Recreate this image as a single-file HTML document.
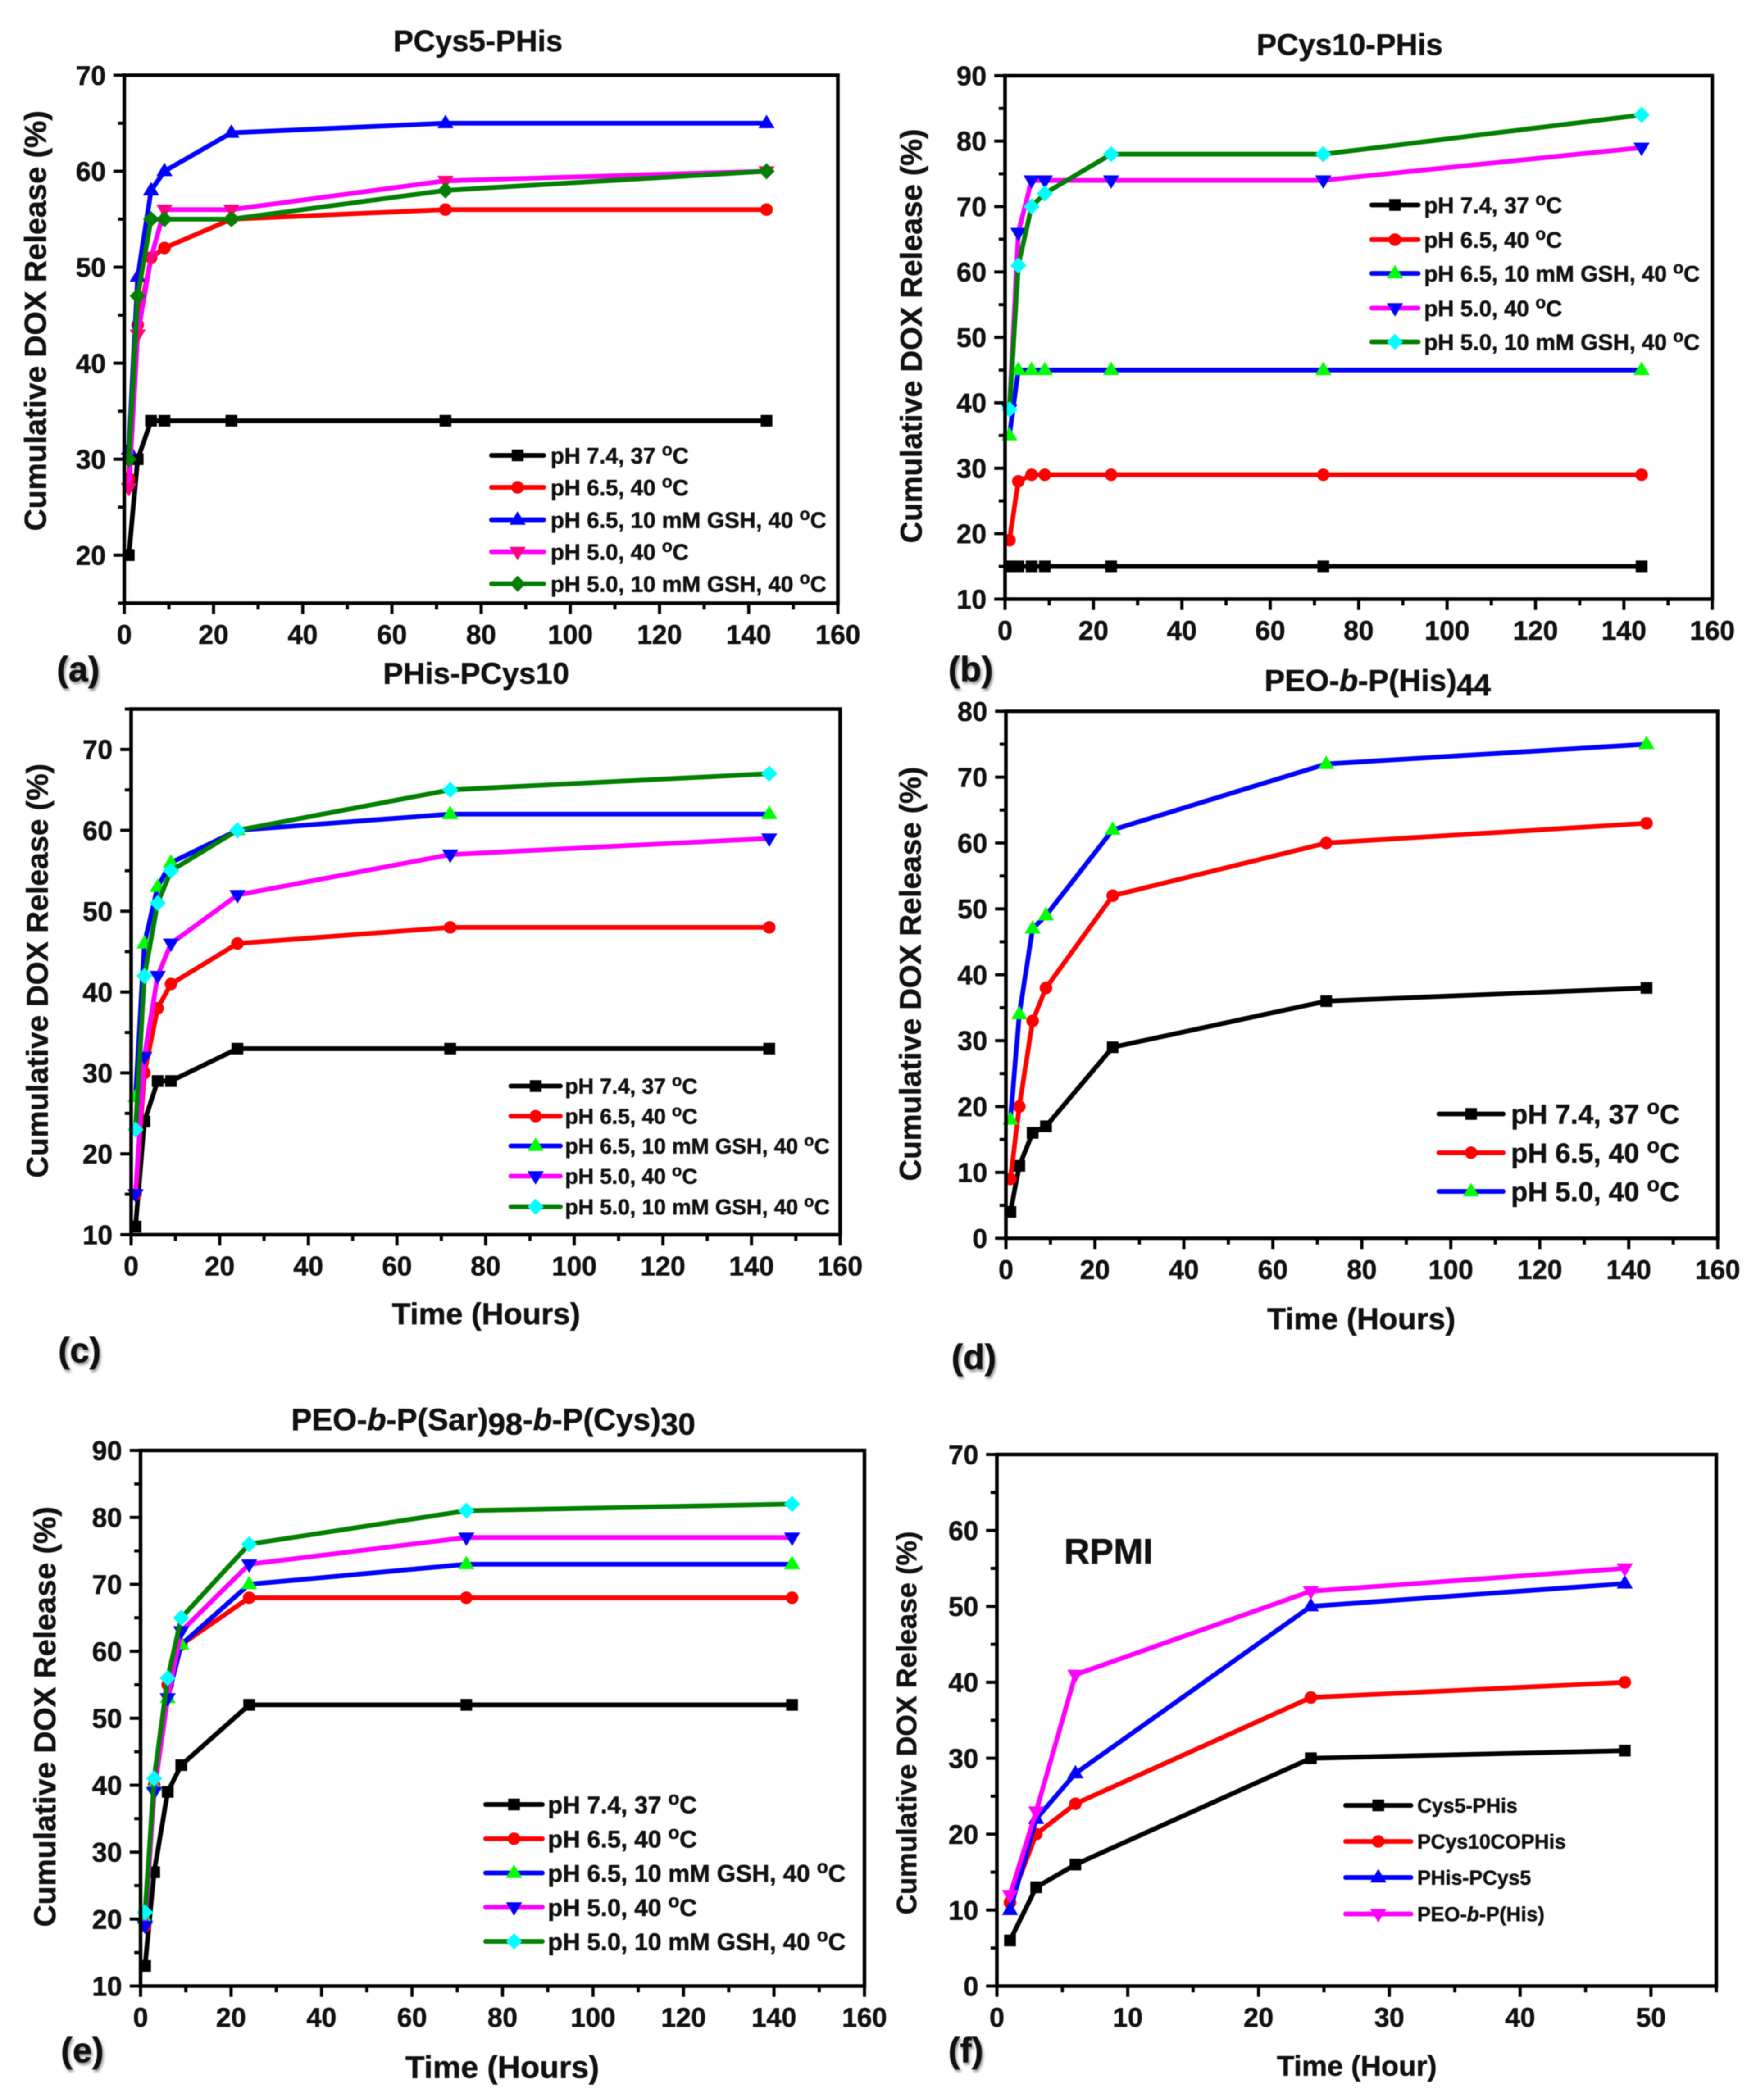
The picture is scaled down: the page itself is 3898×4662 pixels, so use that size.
<!DOCTYPE html>
<html lang="en">
<head>
<meta charset="utf-8">
<title>Cumulative DOX release charts</title>
<style>
html,body{margin:0;padding:0;background:#fff;width:3898px;height:4662px;overflow:hidden}
svg{display:block;filter:blur(1px)}
text{font-family:"Liberation Sans",sans-serif;font-weight:bold;fill:#111;stroke:#111;stroke-width:.8px}
.panel-tag{font-size:78px;text-shadow:3px 5px 6px rgba(0,0,0,.4)}
.title{font-size:67px;text-anchor:middle}
.xt{font-size:68px;text-anchor:middle}
.yt{text-anchor:middle}
</style>
</head>
<body>
<svg id="figure" xmlns="http://www.w3.org/2000/svg" width="3898" height="4662" viewBox="0 0 3898 4662">
<rect width="3898" height="4662" fill="#fff"/>
<g id="panel-a">
  <text class="title" x="1061" y="114">PCys5-PHis</text>
  <text class="yt" font-size="68" transform="translate(102,712) rotate(-90)">Cumulative DOX Release (%)</text>
  <text class="panel-tag" x="126" y="1512">(a)</text>
</g>
<g id="panel-b">
  <text class="title" x="2996" y="122">PCys10-PHis</text>
  <text class="yt" font-size="67" transform="translate(2046,746) rotate(-90)">Cumulative DOX Release (%)</text>
  <text class="panel-tag" x="2105" y="1512">(b)</text>
</g>
<g id="panel-c">
  <text class="title" x="1057" y="1518">PHis-PCys10</text>
  <text class="yt" font-size="67" transform="translate(106,2155) rotate(-90)">Cumulative DOX Release (%)</text>
  <text class="xt" x="1079" y="2940">Time (Hours)</text>
  <text class="panel-tag" x="129" y="3024">(c)</text>
</g>
<g id="panel-d">
  <text class="title" style="font-size:68px" x="3058" y="1534">PEO-<tspan font-style="italic">b</tspan>-P(His)<tspan dy="10">44</tspan></text>
  <text class="yt" font-size="67" transform="translate(2044,2162) rotate(-90)">Cumulative DOX Release (%)</text>
  <text class="xt" x="3022" y="2951">Time (Hours)</text>
  <text class="panel-tag" x="2112" y="3039">(d)</text>
</g>
<g id="panel-e">
  <text class="title" style="font-size:69px" x="1095" y="3175">PEO-<tspan font-style="italic">b</tspan>-P(Sar)<tspan dy="10">98</tspan><tspan dy="-10">-</tspan><tspan font-style="italic">b</tspan>-P(Cys)<tspan dy="10">30</tspan></text>
  <text class="yt" font-size="68" transform="translate(123,3811) rotate(-90)">Cumulative DOX Release (%)</text>
  <text class="xt" style="font-size:70px" x="1115" y="4613">Time (Hours)</text>
  <text class="panel-tag" x="135" y="4578">(e)</text>
</g>
<g id="panel-f">
  <text class="yt" font-size="62" transform="translate(2034,3825) rotate(-90)">Cumulative DOX Release (%)</text>
  <text class="xt" style="font-size:63.5px" x="3012" y="4608">Time (Hour)</text>
  <text x="2362" y="3471" font-size="79">RPMI</text>
  <text class="panel-tag" x="2105" y="4578">(f)</text>
</g>
</svg>
<script>
// ---- data ----
const hoursLong = [1, 3, 6, 9, 24, 72, 144];
const hoursShort = [1, 3, 6, 24, 48];

const xTicksLong = [0, 20, 40, 60, 80, 100, 120, 140, 160];
const xTicksShort = [0, 10, 20, 30, 40, 50];
const yTicksA = [20, 30, 40, 50, 60, 70];
const yTicksB = [10, 20, 30, 40, 50, 60, 70, 80, 90];
const yTicksC = [10, 20, 30, 40, 50, 60, 70];
const yTicksD = [0, 10, 20, 30, 40, 50, 60, 70, 80];
const yTicksE = [10, 20, 30, 40, 50, 60, 70, 80, 90];
const yTicksF = [0, 10, 20, 30, 40, 50, 60, 70];

const aPh74 = [20, 30, 34, 34, 34, 34, 34];
const aPh65 = [28, 44, 51, 52, 55, 56, 56];
const aPh65Gsh = [31, 49, 58, 60, 64, 65, 65];
const aPh50 = [27, 43, 51, 56, 56, 59, 60];
const aPh50Gsh = [30, 47, 55, 55, 55, 58, 60];

const bPh74 = [15, 15, 15, 15, 15, 15, 15];
const bPh65 = [19, 28, 29, 29, 29, 29, 29];
const bPh65Gsh = [35, 45, 45, 45, 45, 45, 45];
const bPh50 = [39, 66, 74, 74, 74, 74, 79];
const bPh50Gsh = [39, 61, 70, 72, 78, 78, 84];

const cPh74 = [11, 24, 29, 29, 33, 33, 33];
const cPh65 = [15, 30, 38, 41, 46, 48, 48];
const cPh65Gsh = [27, 46, 53, 56, 60, 62, 62];
const cPh50 = [15, 32, 42, 46, 52, 57, 59];
const cPh50Gsh = [23, 42, 51, 55, 60, 65, 67];

const dPh74 = [4, 11, 16, 17, 29, 36, 38];
const dPh65 = [9, 20, 33, 38, 52, 60, 63];
const dPh50 = [18, 34, 47, 49, 62, 72, 75];

const ePh74 = [13, 27, 39, 43, 52, 52, 52];
const ePh65 = [19, 40, 55, 61, 68, 68, 68];
const ePh65Gsh = [20, 40, 53, 61, 70, 73, 73];
const ePh50 = [19, 39, 53, 63, 73, 77, 77];
const ePh50Gsh = [21, 41, 56, 65, 76, 81, 82];

const fCys5PHis = [6, 13, 16, 30, 31];
const fPCys10 = [11, 20, 24, 38, 40];
const fPHisPCys5 = [10, 22, 28, 50, 53];
const fPeoPHis = [12, 23, 41, 52, 55];

const labelsFive = ['pH 7.4, 37 °C', 'pH 6.5, 40 °C', 'pH 6.5, 10 mM GSH, 40 °C', 'pH 5.0, 40 °C', 'pH 5.0, 10 mM GSH, 40 °C'];
const labelsThree = ['pH 7.4, 37 °C', 'pH 6.5, 40 °C', 'pH 5.0, 40 °C'];
const labelsRpmi = ['Cys5-PHis', 'PCys10COPHis', 'PHis-PCys5', 'PEO-b-P(His)'];

// ---- drawing ----
const NS = 'http://www.w3.org/2000/svg';

function make(parent, tag, name) {
  const el = document.createElementNS(NS, tag);
  
  
  parent.appendChild(el);
  return el;
}

function drawMarker(parent, shape, cx, cy, color, name) {
  let m;
  if (shape === 'square') {
    m = make(parent, 'rect', name);
    m.setAttribute('x', cx - 13);
    m.setAttribute('y', cy - 13);
    m.setAttribute('width', 26);
    m.setAttribute('height', 26);
  } else if (shape === 'circle') {
    m = make(parent, 'circle', name);
    m.setAttribute('cx', cx);
    m.setAttribute('cy', cy);
    m.setAttribute('r', 14);
  } else {
    m = make(parent, 'polygon', name);
    let pts;
    if (shape === 'up') pts = [[0, -19], [18, 11], [-18, 11]];
    else if (shape === 'down') pts = [[0, 19], [18, -11], [-18, -11]];
    else pts = [[0, -18], [18, 0], [0, 18], [-18, 0]];
    m.setAttribute('points', pts.map(p => (cx + p[0]) + ',' + (cy + p[1])).join(' '));
  }
  m.setAttribute('fill', color);
}

function writeLabel(textEl, label, size) {
  const parts = label.split(/(°|-b-)/);
  let afterSup = false;
  parts.forEach(part => {
    if (!part) return;
    const span = document.createElementNS(NS, 'tspan');
    if (part === '°') {
      span.textContent = 'o';
      span.setAttribute('font-size', size * 0.76);
      span.setAttribute('dy', -size * 0.36);
      afterSup = true;
    } else if (part === '-b-') {
      textEl.appendChild(document.createTextNode('-'));
      span.textContent = 'b';
      span.setAttribute('font-style', 'italic');
      textEl.appendChild(span);
      textEl.appendChild(document.createTextNode('-'));
      return;
    } else {
      span.textContent = part;
      if (afterSup) span.setAttribute('dy', size * 0.36);
      afterSup = false;
    }
    textEl.appendChild(span);
  });
}

function drawPanel(p) {
  const root = document.getElementById(p.id);
  const xPos = v => p.left + (v - 0) / (p.xMax - 0) * (p.right - p.left);
  const yPos = v => p.bottom - (v - p.yMin) / (p.yMax - p.yMin) * (p.bottom - p.top);

  const series = make(root, 'g', p.id + '-series');
  p.series.forEach((s, i) => {
    const g = make(series, 'g', p.id + '-series-' + (i + 1));
    const line = make(g, 'polyline', p.id + '-series-' + (i + 1) + '-line');
    line.setAttribute('fill', 'none');
    line.setAttribute('stroke', s.line);
    line.setAttribute('stroke-width', 10.5);
    line.setAttribute('stroke-linejoin', 'miter');
    line.setAttribute('points', s.values.map((v, k) => xPos(p.times[k]) + ',' + yPos(v)).join(' '));
    s.values.forEach((v, k) => {
      drawMarker(g, s.shape, xPos(p.times[k]), yPos(v), s.marker, p.id + '-series-' + (i + 1) + '-point');
    });
  });

  const frame = make(root, 'rect', p.id + '-plot-frame');
  frame.setAttribute('x', p.left);
  frame.setAttribute('y', p.top);
  frame.setAttribute('width', p.right - p.left);
  frame.setAttribute('height', p.bottom - p.top);
  frame.setAttribute('fill', 'none');
  frame.setAttribute('stroke', '#000');
  frame.setAttribute('stroke-width', 8);

  const ticks = make(root, 'g', p.id + '-ticks');
  const fontSize = 60;
  function tick(x1, y1, x2, y2, name) {
    const t = make(ticks, 'line', name);
    t.setAttribute('x1', x1);
    t.setAttribute('y1', y1);
    t.setAttribute('x2', x2);
    t.setAttribute('y2', y2);
    t.setAttribute('stroke', '#000');
    t.setAttribute('stroke-width', 7);
  }
  const xStep = (p.xTicks[1] - p.xTicks[0]) / 2;
  for (let v = 0; v <= p.xMax + 0.001; v += xStep) {
    const major = p.xTicks.includes(v);
    tick(xPos(v), p.bottom, xPos(v), p.bottom + (major ? 24 : 14), p.id + '-x-tick');
  }
  const yStep = (p.yTicks[1] - p.yTicks[0]) / 2;
  for (let v = p.yMin; v <= p.yMax + 0.001; v += yStep) {
    const major = p.yTicks.includes(v);
    tick(p.left, yPos(v), p.left - (major ? 24 : 14), yPos(v), p.id + '-y-tick');
  }
  p.xTicks.forEach(v => {
    const t = make(ticks, 'text', p.id + '-x-tick-label');
    t.setAttribute('x', xPos(v));
    t.setAttribute('y', p.bottom + 69 + fontSize * 0.358);
    t.setAttribute('font-size', fontSize);
    t.setAttribute('text-anchor', 'middle');
    t.textContent = v;
  });
  p.yTicks.forEach(v => {
    const t = make(ticks, 'text', p.id + '-y-tick-label');
    t.setAttribute('x', p.left - 41);
    t.setAttribute('y', yPos(v) + fontSize * 0.358);
    t.setAttribute('font-size', fontSize);
    t.setAttribute('text-anchor', 'end');
    t.textContent = v;
  });

  const legend = make(root, 'g', p.id + '-legend');
  p.legend.rows.forEach((rowY, i) => {
    const s = p.series[i];
    const entry = make(legend, 'g', p.id + '-legend-entry');
    const l = make(entry, 'line', p.id + '-legend-line');
    l.setAttribute('x1', p.legend.lineStart);
    l.setAttribute('x2', p.legend.lineEnd);
    l.setAttribute('y1', rowY);
    l.setAttribute('y2', rowY);
    l.setAttribute('stroke', s.line);
    l.setAttribute('stroke-width', 10.5);
    l.setAttribute('stroke-linecap', 'round');
    drawMarker(entry, s.shape, (p.legend.lineStart + p.legend.lineEnd) / 2, rowY, s.marker, p.id + '-legend-marker');
    const t = make(entry, 'text', p.id + '-legend-label');
    t.setAttribute('x', p.legend.textX);
    t.setAttribute('y', rowY + p.legend.size * 0.358);
    t.setAttribute('font-size', p.legend.size);
    writeLabel(t, p.labels[i], p.legend.size);
  });
}

const K = '#000000', R = '#ff0000', B = '#0000ff', M = '#ff00ff', G = '#007f00', L = '#00ff00', C = '#00ffff', H = '#ff0080';

drawPanel({
  id: 'panel-a', left: 276, right: 1860, top: 167, bottom: 1339, xMax: 160, yMin: 15, yMax: 70,
  times: hoursLong, xTicks: xTicksLong, yTicks: yTicksA, labels: labelsFive,
  series: [
    { values: aPh74, line: K, marker: K, shape: 'square' },
    { values: aPh65, line: R, marker: R, shape: 'circle' },
    { values: aPh65Gsh, line: B, marker: B, shape: 'up' },
    { values: aPh50, line: M, marker: H, shape: 'down' },
    { values: aPh50Gsh, line: G, marker: G, shape: 'diamond' }
  ],
  legend: { rows: [1011, 1082, 1154, 1225, 1296], lineStart: 1091, lineEnd: 1207, textX: 1222, size: 50 }
});

drawPanel({
  id: 'panel-b', left: 2231, right: 3801, top: 168, bottom: 1330, xMax: 160, yMin: 10, yMax: 90,
  times: hoursLong, xTicks: xTicksLong, yTicks: yTicksB, labels: labelsFive,
  series: [
    { values: bPh74, line: K, marker: K, shape: 'square' },
    { values: bPh65, line: R, marker: R, shape: 'circle' },
    { values: bPh65Gsh, line: B, marker: L, shape: 'up' },
    { values: bPh50, line: M, marker: B, shape: 'down' },
    { values: bPh50Gsh, line: G, marker: C, shape: 'diamond' }
  ],
  legend: { rows: [455, 532, 607, 684, 759], lineStart: 3045, lineEnd: 3148, textX: 3161, size: 50 }
});

drawPanel({
  id: 'panel-c', left: 291, right: 1865, top: 1574, bottom: 2741, xMax: 160, yMin: 10, yMax: 75,
  times: hoursLong, xTicks: xTicksLong, yTicks: yTicksC, labels: labelsFive,
  series: [
    { values: cPh74, line: K, marker: K, shape: 'square' },
    { values: cPh65, line: R, marker: R, shape: 'circle' },
    { values: cPh65Gsh, line: B, marker: L, shape: 'up' },
    { values: cPh50, line: M, marker: B, shape: 'down' },
    { values: cPh50Gsh, line: G, marker: C, shape: 'diamond' }
  ],
  legend: { rows: [2411, 2478, 2544, 2611, 2679], lineStart: 1134, lineEnd: 1244, textX: 1254, size: 48 }
});

drawPanel({
  id: 'panel-d', left: 2233, right: 3813, top: 1579, bottom: 2749, xMax: 160, yMin: 0, yMax: 80,
  times: hoursLong, xTicks: xTicksLong, yTicks: yTicksD, labels: labelsThree,
  series: [
    { values: dPh74, line: K, marker: K, shape: 'square' },
    { values: dPh65, line: R, marker: R, shape: 'circle' },
    { values: dPh50, line: B, marker: L, shape: 'up' }
  ],
  legend: { rows: [2473, 2559, 2645], lineStart: 3194, lineEnd: 3337, textX: 3354, size: 61 }
});

drawPanel({
  id: 'panel-e', left: 312, right: 1919, top: 3220, bottom: 4409, xMax: 160, yMin: 10, yMax: 90,
  times: hoursLong, xTicks: xTicksLong, yTicks: yTicksE, labels: labelsFive,
  series: [
    { values: ePh74, line: K, marker: K, shape: 'square' },
    { values: ePh65, line: R, marker: R, shape: 'circle' },
    { values: ePh65Gsh, line: B, marker: L, shape: 'up' },
    { values: ePh50, line: M, marker: B, shape: 'down' },
    { values: ePh50Gsh, line: G, marker: C, shape: 'diamond' }
  ],
  legend: { rows: [4006, 4082, 4158, 4234, 4310], lineStart: 1078, lineEnd: 1204, textX: 1216, size: 54 }
});

drawPanel({
  id: 'panel-f', left: 2213, right: 3810, top: 3229, bottom: 4409, xMax: 55, yMin: 0, yMax: 70,
  times: hoursShort, xTicks: xTicksShort, yTicks: yTicksF, labels: labelsRpmi,
  series: [
    { values: fCys5PHis, line: K, marker: K, shape: 'square' },
    { values: fPCys10, line: R, marker: R, shape: 'circle' },
    { values: fPHisPCys5, line: B, marker: B, shape: 'up' },
    { values: fPeoPHis, line: M, marker: M, shape: 'down' }
  ],
  legend: { rows: [4008, 4088, 4168, 4249], lineStart: 2987, lineEnd: 3132, textX: 3146, size: 45 }
});
</script>
</body>
</html>
